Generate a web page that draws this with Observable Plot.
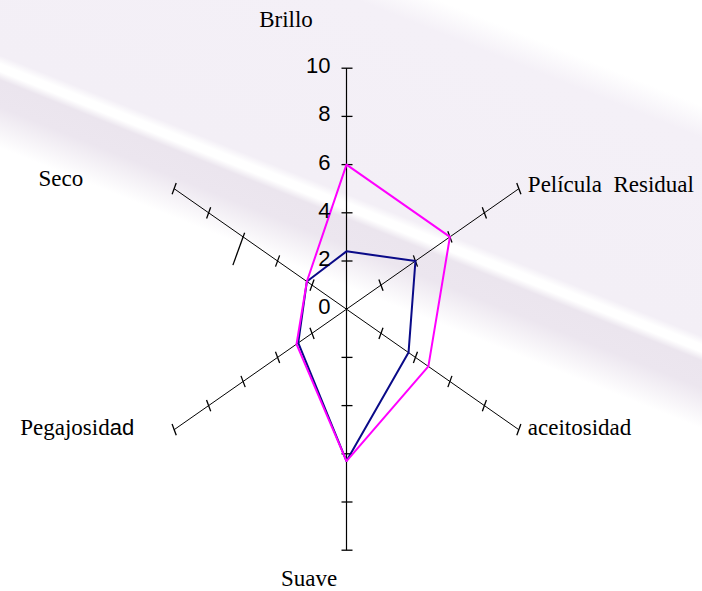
<!DOCTYPE html>
<html>
<head>
<meta charset="utf-8">
<script src="https://cdn.jsdelivr.net/npm/d3@7"></script>
<script src="https://cdn.jsdelivr.net/npm/@observablehq/plot@0.6"></script>
<style>
  html, body { margin: 0; padding: 0; background: #fff; }
  svg text { white-space: pre; }
</style>
</head>
<body>
<div id="chart"></div>
<script>
// ---- data ----
const categories = ["Brillo", "Película  Residual", "aceitosidad", "Suave", "Pegajosidad", "Seco"];
const seriesMagenta = [6, 6, 4.75, 6.3, 2.9, 2.3];
const seriesNavy = [2.4, 4, 3.6, 6.3, 2.8, 2.3];
const tickValues = [2, 4, 6, 8, 10];
const scaleLabels = [0, 2, 4, 6, 8, 10];
const rMax = 10;

// ---- layout ----
const W = 702, H = 591;
const cxPx = 346, cyPx = 308.7;   // centre of the radar, pixels
const kx = 19.9, ky = 24.1;       // pixels per data unit
const angle = i => i * Math.PI / 3;
const px2dx = p => p / kx, px2dy = p => -p / ky;

// label offsets (pixels) from the end of each spoke
const labelLayout = [
  {dx: -60.5, dy: -49, anchor: "middle"},
  {dx: 9, dy: -4, anchor: "start"},
  {dx: 9, dy: -2, anchor: "start"},
  {dx: -37.5, dy: 28, anchor: "middle"},
  {dx: -40, dy: -2, anchor: "end"},
  {dx: -91, dy: -10, anchor: "end"}
];

const pts = (vals, name) => vals.map((v, i) => ({
  series: name, cat: categories[i],
  x: v * Math.sin(angle(i)), y: v * Math.cos(angle(i))
}));

const spokes = categories.map((c, i) => ({
  x1: 0, y1: 0, x2: rMax * Math.sin(angle(i)), y2: rMax * Math.cos(angle(i)), i
}));

// tick marks along spokes (direction in screen pixels)
const ticks = [];
categories.forEach((c, i) => {
  let dir, a = -6, b = 6;
  if (i === 0 || i === 3) { dir = [1, 0]; a = -5; b = 6; }
  else if (i === 1 || i === 4) dir = [0.35, 0.94];
  else dir = [0.34, -0.94];
  tickValues.forEach(v => {
    let lo = a, hi = b;
    if (i === 5 && v === 6) { lo = -30; hi = 4.5; }
    const x = v * Math.sin(angle(i)), y = v * Math.cos(angle(i));
    ticks.push({
      x1: x + px2dx(lo * dir[0]), y1: y + px2dy(lo * dir[1]),
      x2: x + px2dx(hi * dir[0]), y2: y + px2dy(hi * dir[1])
    });
  });
});

const labels = categories.map((c, i) => ({
  text: c,
  x: rMax * Math.sin(angle(i)) + px2dx(labelLayout[i].dx),
  y: rMax * Math.cos(angle(i)) + px2dy(labelLayout[i].dy),
  anchor: labelLayout[i].anchor
}));

const bg = "linear-gradient(201.8deg, #ffffff 0px, #ffffff 98px, #f4f0f7 128px, #f3eff6 312px, #ffffff 320px, #ffffff 327px, #ebe5ee 335px, #ece6ef 360px, #ffffff 398px, #ffffff 100%)";

const labelMarks = ["start", "middle", "end"].map(anc =>
  Plot.text(labels.filter(d => d.anchor === anc), {
    x: "x", y: "y", text: "text", textAnchor: anc,
    fontFamily: "Liberation Serif", fontSize: 23, fill: "#000"
  })
);

const plot = Plot.plot({
  width: W, height: H,
  margin: 0,
  style: {background: bg},
  x: {domain: [-cxPx / kx, (W - cxPx) / kx], range: [0, W], axis: null},
  y: {domain: [-(H - cyPx) / ky, cyPx / ky], range: [H, 0], axis: null},
  marks: [
    Plot.link(spokes, {x1: "x1", y1: "y1", x2: "x2", y2: "y2",
      stroke: "#000", strokeWidth: d => (d.i === 0 || d.i === 3) ? 1.2 : 1}),
    Plot.link(ticks, {x1: "x1", y1: "y1", x2: "x2", y2: "y2",
      stroke: "#000", strokeWidth: 1.3}),
    Plot.line(pts(seriesNavy, "navy"), {x: "x", y: "y", curve: "linear-closed",
      stroke: "#0a0a88", strokeWidth: 2}),
    Plot.line(pts(seriesMagenta, "magenta"), {x: "x", y: "y", curve: "linear-closed",
      stroke: "#ff00ff", strokeWidth: 2}),
    Plot.text(scaleLabels, {x: 0, y: d => d, text: d => String(d), textAnchor: "end",
      dx: -16, dy: -2, fontFamily: "Liberation Sans", fontSize: 22, fill: "#000"}),
    ...labelMarks
  ]
});

document.getElementById("chart").appendChild(plot);

// "Pegajosidad": last two letters rendered in a sans face as in the original
d3.select(plot).selectAll("text").filter(function () { return this.textContent === "Pegajosidad"; })
  .each(function () {
    const t = d3.select(this);
    t.text(null);
    t.append("tspan").text("Pegajosid");
    t.append("tspan").attr("font-family", "Liberation Sans").attr("font-size", 22).text("ad");
  });
</script>
</body>
</html>
